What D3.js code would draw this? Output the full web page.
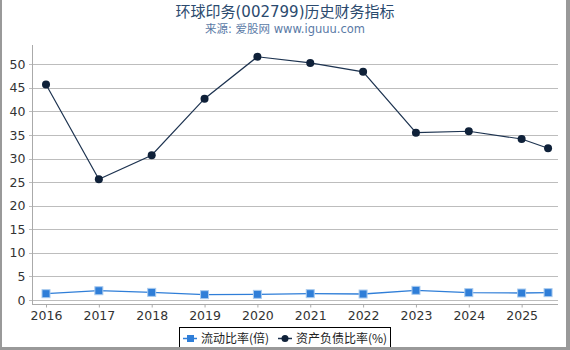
<!DOCTYPE html>
<html>
<head>
<meta charset="utf-8">
<script src="https://cdn.jsdelivr.net/npm/d3@7"></script>
<style>
  body { margin: 0; background: #fff; }
  svg { display: block; font-family: "DejaVu Sans", "Noto Sans CJK SC", sans-serif; }
</style>
</head>
<body>
<script>
// periods (2025.5 = half-year report)
const periods = [2016, 2017, 2018, 2019, 2020, 2021, 2022, 2023, 2024, 2025, 2025.5];
const currentRatio = [1.34, 1.97, 1.62, 1.13, 1.2, 1.34, 1.27, 2.05, 1.56, 1.48, 1.56];
const debtRatio = [45.7, 25.6, 30.7, 42.7, 51.6, 50.3, 48.4, 35.5, 35.8, 34.15, 32.2];
const xTicks = [2016, 2017, 2018, 2019, 2020, 2021, 2022, 2023, 2024, 2025];
const yTicks = [0, 5, 10, 15, 20, 25, 30, 35, 40, 45, 50];
const seriesNames = ["流动比率(倍)", "资产负债比率(%)"];

const w = 570;
const h = 350;

const svg = d3.select("body").append("svg")
  .attr("width", w)
  .attr("height", h);

// outer frame (left, right)
svg.append("rect").attr("x", 0).attr("y", 0).attr("width", 2).attr("height", h).attr("fill", "#999");
svg.append("rect").attr("x", w - 4).attr("y", 0).attr("width", 4).attr("height", h).attr("fill", "#999");

// titles
svg.append("text")
  .attr("x", 285).attr("y", 17)
  .attr("text-anchor", "middle")
  .attr("font-size", 15)
  .attr("fill", "#2b4a6e")
  .text("环球印务(002799)历史财务指标");
svg.append("text")
  .attr("x", 285).attr("y", 33)
  .attr("text-anchor", "middle")
  .attr("font-size", 11.5)
  .attr("fill", "#5a7aa6")
  .text("来源: 爱股网 www.iguuu.com");

const xScale = d3.scaleLinear()
  .domain([2015.735, 2025.688])
  .range([32, 558]);

const yScale = d3.scaleLinear()
  .domain([0, 50])
  .range([300, 64.3]);

// gridlines
svg.append("g")
  .selectAll("line")
  .data(yTicks)
  .enter()
  .append("line")
  .attr("x1", 29)
  .attr("x2", 558)
  .attr("y1", (d) => Math.round(yScale(d)) + 0.5)
  .attr("y2", (d) => Math.round(yScale(d)) + 0.5)
  .attr("stroke", "#bdbdbd")
  .attr("stroke-width", 1);

// y axis
const yAxis = d3.axisLeft(yScale).tickValues(yTicks).tickSize(0).tickPadding(7);
const gy = svg.append("g")
  .attr("id", "y-axis")
  .attr("transform", "translate(32.5,0)")
  .call(yAxis);
gy.select(".domain").remove();
gy.selectAll("text").attr("font-size", 12.5).attr("fill", "#333").attr("font-family", "DejaVu Sans");
svg.append("line")
  .attr("x1", 32.5).attr("x2", 32.5)
  .attr("y1", 45).attr("y2", 305)
  .attr("stroke", "#aaa");

// x axis
const xAxis = d3.axisBottom(xScale).tickValues(xTicks).tickFormat(d3.format("d")).tickSize(3).tickPadding(4);
const gx = svg.append("g")
  .attr("id", "x-axis")
  .attr("transform", "translate(0,304.5)")
  .call(xAxis);
gx.select(".domain").attr("stroke", "#aaa").attr("d", "M32,0H558");
gx.selectAll(".tick line").attr("stroke", "#aaa");
gx.selectAll("text").attr("font-size", 12.5).attr("fill", "#333").attr("font-family", "DejaVu Sans");

const line = d3.line()
  .x((d) => xScale(d[0]))
  .y((d) => yScale(d[1]));

const debtData = periods.map((p, i) => [p, debtRatio[i]]);
const curData = periods.map((p, i) => [p, currentRatio[i]]);

// debt ratio series
svg.append("path")
  .datum(debtData)
  .attr("d", line)
  .attr("fill", "none")
  .attr("stroke", "#1d3350")
  .attr("stroke-width", 1.2);
svg.append("g")
  .selectAll("circle")
  .data(debtData)
  .enter()
  .append("circle")
  .attr("cx", (d) => xScale(d[0]))
  .attr("cy", (d) => yScale(d[1]))
  .attr("r", 4)
  .attr("fill", "#0f2139");

// current ratio series
svg.append("path")
  .datum(curData)
  .attr("d", line)
  .attr("fill", "none")
  .attr("stroke", "#2f7ed8")
  .attr("stroke-width", 1.3);
svg.append("g")
  .selectAll("rect")
  .data(curData)
  .enter()
  .append("rect")
  .attr("x", (d) => xScale(d[0]) - 4)
  .attr("y", (d) => yScale(d[1]) - 4)
  .attr("width", 8)
  .attr("height", 8)
  .attr("fill", "#2f7ed8")
  .attr("stroke", "#a9cbef")
  .attr("stroke-width", 1);

// legend
const legend = svg.append("g").attr("font-family", "Noto Sans CJK SC");
legend.append("rect")
  .attr("x", 179.5).attr("y", 327.5)
  .attr("width", 211).attr("height", 24)
  .attr("fill", "#fff")
  .attr("stroke", "#000");

legend.append("line").attr("x1", 183).attr("x2", 197).attr("y1", 338.5).attr("y2", 338.5)
  .attr("stroke", "#2f7ed8").attr("stroke-width", 1.5);
legend.append("rect").attr("x", 187).attr("y", 335).attr("width", 7).attr("height", 7).attr("fill", "#2f7ed8");
legend.append("text").attr("x", 201).attr("y", 343)
  .attr("font-size", 12).attr("fill", "#222").text(seriesNames[0]);

legend.append("line").attr("x1", 278).attr("x2", 292).attr("y1", 338.5).attr("y2", 338.5)
  .attr("stroke", "#1d3350").attr("stroke-width", 1.5);
legend.append("circle").attr("cx", 285).attr("cy", 338.5).attr("r", 3.5).attr("fill", "#0f2139");
legend.append("text").attr("x", 296).attr("y", 343)
  .attr("font-size", 12).attr("fill", "#222").text(seriesNames[1]);

// bottom frame drawn on top of legend
svg.append("rect").attr("x", 0).attr("y", h - 3).attr("width", w).attr("height", 3).attr("fill", "#999");
</script>
</body>
</html>
